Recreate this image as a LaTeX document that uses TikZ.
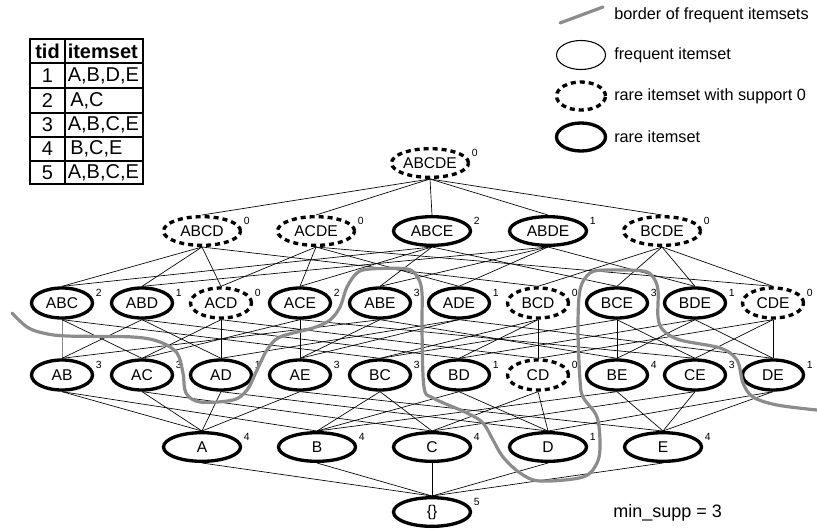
\documentclass[tikz,border=0pt]{standalone}
\usepackage{fontspec}
\setmainfont{Liberation Sans}
\usetikzlibrary{shapes}

\definecolor{bordergray}{RGB}{140,140,140}

\tikzset{
  set/.style={ellipse, draw, inner sep=0pt, font=\fontsize{11.7}{13}\selectfont},
  rare/.style={set, line width=2.5pt},
  zero/.style={set, line width=2.5pt, dash pattern=on 3.75pt off 3pt},
  big/.style={minimum width=57.75pt, minimum height=21.5pt},
  small/.style={minimum width=45.75pt, minimum height=22.5pt},
  supp/.style={font=\fontsize{7.8}{9}\selectfont, inner sep=1pt, yshift=7.5pt},
  edge/.style={line width=0.5pt},
  border/.style={line width=2.4pt, bordergray, line cap=round},
  legtext/.style={anchor=west, inner sep=0pt, font=\fontsize{12.2}{14}\selectfont},
  tabtext/.style={inner sep=0pt, font=\fontsize{15}{18}\selectfont},
}

\begin{document}
\begin{tikzpicture}[x=0.75pt, y=-0.75pt]
\useasboundingbox (0,0) rectangle (817,529);

% transaction table
\draw [line width=1pt] (30,39) rectangle (143,184);
\draw [line width=1pt] (65,39) -- (65,184);
\foreach \r in {63,88,113,137,161}
  \draw [line width=1pt] (30,\r) -- (143,\r);
\node [tabtext, font=\fontsize{15}{18}\selectfont\bfseries] at (47.5,51) {tid};
\node [tabtext, font=\fontsize{15}{18}\selectfont\bfseries, anchor=west] at (67.5,51) {itemset};
\node [tabtext] at (47.5,75.5) {1};
\node [tabtext] at (47.5,100.5) {2};
\node [tabtext] at (47.5,125) {3};
\node [tabtext] at (47.5,149) {4};
\node [tabtext] at (47.5,173) {5};
\node [tabtext, anchor=west] at (67.5,75.5) {A,B,D,E};
\node [tabtext, anchor=west] at (70,100.5) {A,C};
\node [tabtext, anchor=west] at (67.5,125) {A,B,C,E};
\node [tabtext, anchor=west] at (70,149) {B,C,E};
\node [tabtext, anchor=west] at (67.5,173) {A,B,C,E};

% legend
\draw [border] (560,23) -- (603,7);
\node [legtext] at (614,15) {border of frequent itemsets};
\node [set, line width=0.8pt, minimum width=36.75pt, minimum height=21.75pt] (lfreq) at (581,55) {};
\node [legtext] at (614,55) {frequent itemset};
\node [zero, minimum width=36.75pt, minimum height=21pt] (lzero) at (581,96) {};
\node [legtext] at (614,96) {rare itemset with support 0};
\node [rare, minimum width=36.75pt, minimum height=21pt] (lrare) at (581,137) {};
\node [legtext] at (614,137) {rare itemset};

% lattice
\node [zero, big, label={[supp]right:0}] (ABCDE) at (430,163) {ABCDE};

\node [zero, big, label={[supp]right:0}] (ABCD) at (202,231) {ABCD};
\node [zero, big, label={[supp]right:0}] (ACDE) at (316,231) {ACDE};
\node [rare, big, label={[supp]right:2}] (ABCE) at (432,231) {ABCE};
\node [rare, big, label={[supp]right:1}] (ABDE) at (548,231) {ABDE};
\node [zero, big, label={[supp]right:0}] (BCDE) at (662,231) {BCDE};

\node [rare, small, label={[supp]right:2}] (ABC) at (62,303) {ABC};
\node [rare, small, label={[supp]right:1}] (ABD) at (142,303) {ABD};
\node [zero, small, label={[supp]right:0}] (ACD) at (221,303) {ACD};
\node [rare, small, label={[supp]right:2}] (ACE) at (300,303) {ACE};
\node [rare, small, label={[supp]right:3}] (ABE) at (380,303) {ABE};
\node [rare, small, label={[supp]right:1}] (ADE) at (459,303) {ADE};
\node [zero, small, label={[supp]right:0}] (BCD) at (538,303) {BCD};
\node [rare, small, label={[supp]right:3}] (BCE) at (617,303) {BCE};
\node [rare, small, label={[supp]right:1}] (BDE) at (695,303) {BDE};
\node [zero, small, label={[supp]right:0}] (CDE) at (773,303) {CDE};

\node [rare, small, label={[supp]right:3}] (AB) at (62,375) {AB};
\node [rare, small, label={[supp]right:3}] (AC) at (142,375) {AC};
\node [rare, small, label={[supp]right:1}] (AD) at (221,375) {AD};
\node [rare, small, label={[supp]right:3}] (AE) at (300,375) {AE};
\node [rare, small, label={[supp]right:3}] (BC) at (380,375) {BC};
\node [rare, small, label={[supp]right:1}] (BD) at (459,375) {BD};
\node [zero, small, label={[supp]right:0}] (CD) at (538,375) {CD};
\node [rare, small, label={[supp]right:4}] (BE) at (617,375) {BE};
\node [rare, small, label={[supp]right:3}] (CE) at (695,375) {CE};
\node [rare, small, label={[supp]right:1}] (DE) at (773,375) {DE};

\node [rare, big, label={[supp]right:4}] (A) at (202,447) {A};
\node [rare, big, label={[supp]right:4}] (B) at (317,447) {B};
\node [rare, big, label={[supp]right:4}] (C) at (432,447) {C};
\node [rare, big, label={[supp]right:1}] (D) at (548,447) {D};
\node [rare, big, label={[supp]right:4}] (E) at (663,447) {E};

\node [rare, big, label={[supp]right:5}] (empty) at (432,512) {\{\}};

% edges between itemsets and their subsets
\foreach \t in {ABCD,ACDE,ABCE,ABDE,BCDE}
  \draw [edge] (ABCDE.south) -- (\t.north);
\foreach \s/\t in {ABCD/ABC,ABCD/ABD,ABCD/ACD,ABCD/BCD,
                   ACDE/ACD,ACDE/ACE,ACDE/ADE,ACDE/CDE,
                   ABCE/ABC,ABCE/ACE,ABCE/ABE,ABCE/BCE,
                   ABDE/ABD,ABDE/ABE,ABDE/ADE,ABDE/BDE,
                   BCDE/BCD,BCDE/BCE,BCDE/BDE,BCDE/CDE}
  \draw [edge] (\s.south) -- (\t.north);
\draw [edge, bordergray] (ABC.south) -- (AB.north);
\foreach \s/\t in {ABC/AC,ABC/BC,ABD/AB,ABD/AD,ABD/BD,
                   ACD/AC,ACD/AD,ACD/CD,ACE/AC,ACE/AE,ACE/CE,
                   ABE/AB,ABE/AE,ABE/BE,ADE/AD,ADE/AE,ADE/DE,
                   BCD/BC,BCD/BD,BCD/CD,BCE/BC,BCE/BE,BCE/CE,
                   BDE/BD,BDE/BE,BDE/DE,CDE/CD,CDE/CE,CDE/DE}
  \draw [edge] (\s.south) -- (\t.north);
\foreach \s/\t in {AB/A,AB/B,AC/A,AC/C,AD/A,AD/D,AE/A,AE/E,BC/B,BC/C,
                   BD/B,BD/D,CD/C,CD/D,BE/B,BE/E,CE/C,CE/E,DE/D,DE/E}
  \draw [edge] (\s.south) -- (\t.north);
\foreach \s in {A,B,C,D,E}
  \draw [edge] (\s.south) -- (empty.north);

% border of frequent itemsets
\draw [border] plot [smooth, tension=0.55] coordinates {
  (12,313) (27,327) (43,333) (67,336) (133,337) (160,342) (177,353)
  (183,373) (186,393) (200,402) (233,400) (247,390) (257,370) (267,350)
  (280,337) (313,328) (330,320) (340,307) (347,287) (357,273) (370,269)
  (407,269) (418,278) (422,293) (422,330) (424,387) (433,398) (467,413)
  (483,423) (493,440) (503,457) (520,473) (540,481) (583,477) (597,463)
  (600,445) (597,417) (583,397) (580,380) (578,330) (580,290) (590,273)
  (607,270) (643,271) (653,277) (658,290) (658,317) (663,330) (680,340)
  (720,348) (737,360) (743,383) (753,397) (777,405) (817,410)};

\node [inner sep=0pt, anchor=west, font=\fontsize{13.5}{16}\selectfont] at (613,513) {min\_supp = 3};

\end{tikzpicture}
\end{document}
